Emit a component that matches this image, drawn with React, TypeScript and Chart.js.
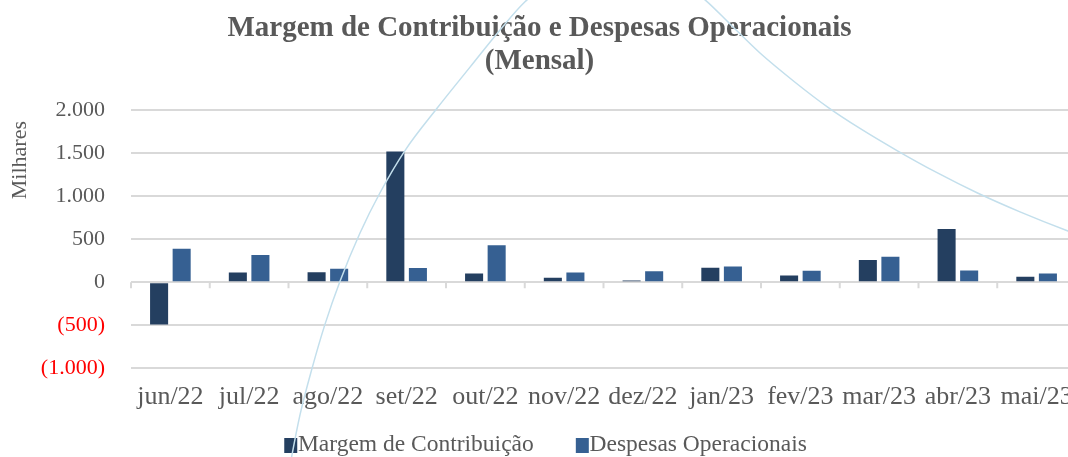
import React, { useEffect, useRef } from "react";
import { Chart, registerables } from "chart.js";

Chart.register(...registerables);

const categories = ["jun/22", "jul/22", "ago/22", "set/22", "out/22", "nov/22", "dez/22", "jan/23", "fev/23", "mar/23", "abr/23", "mai/23"];
const margemContribuicao = [-490, 113, 117, 1518, 102, 51, 20, 168, 78, 257, 619, 63];
const despesasOperacionais = [390, 315, 157, 164, 428, 113, 128, 183, 133, 297, 137, 102];
const yTickValues = [-1000, -500, 0, 500, 1000, 1500, 2000];
// decorative curve (x in category-index units, y in thousands)
const curveX = [1.506, 1.544, 1.646, 1.798, 1.963, 2.154, 2.408, 2.662, 2.979, 3.386, 3.805, 4.186, 4.503, 4.821, 5.202, 5.646, 6.09, 6.471, 6.789, 7.106, 7.487, 7.932, 8.351, 8.757, 9.227, 9.735, 10.243, 10.789, 11.398, 11.614];
const curveY = [-2206, -2008, -1541, -1004, -490, 12, 572, 1039, 1529, 2020, 2498, 2930, 3257, 3479, 3631, 3689, 3631, 3491, 3280, 3000, 2662, 2323, 2031, 1786, 1529, 1272, 1039, 817, 595, 525];

const FONT = "'Liberation Serif', 'Times New Roman', serif";
const GREY = "#595959";
const GRID = "#d9d9d9";
const COLORS = ["#243F60", "#366092"];

function fmt(v: number): string {
  const a = Math.abs(v);
  const s = a >= 1000 ? Math.floor(a / 1000) + "." + String(a % 1000).padStart(3, "0") : String(a);
  return v < 0 ? "(" + s + ")" : s;
}

function swatch(color: string): HTMLCanvasElement {
  const c = document.createElement("canvas");
  c.width = 42;
  c.height = 15;
  const g = c.getContext("2d")!;
  g.fillStyle = color;
  g.fillRect(19, 0, 13, 15);
  return c;
}

const legendShift = {
  id: "legendShift",
  afterLayout(chart: any) {
    const l = chart.legend;
    if (!l) return;
    l.top -= 23;
    l.bottom -= 23;
    l.left += 7;
    l.right += 7;
  },
};

// small tick marks hanging below the zero line at category boundaries
const zeroTicks = {
  id: "zeroTicks",
  beforeDatasetsDraw(chart: any) {
    const x = chart.scales.x;
    const y = chart.scales.y;
    const y0 = y.getPixelForValue(0);
    const ctx = chart.ctx;
    ctx.save();
    ctx.strokeStyle = GRID;
    ctx.lineWidth = 2;
    ctx.beginPath();
    for (let i = 0; i <= categories.length; i++) {
      const px = x.getPixelForValue(i - 0.5);
      ctx.moveTo(px, y0);
      ctx.lineTo(px, y0 + 6);
    }
    ctx.stroke();
    ctx.restore();
  },
};

export default function App() {
  const ref = useRef<HTMLCanvasElement | null>(null);
  useEffect(() => {
    if (!ref.current) return;
    const chart = new Chart(ref.current, {
      type: "bar",
      data: {
        labels: categories,
        datasets: [
          {
            label: "Margem de Contribuição",
            data: margemContribuicao,
            backgroundColor: COLORS[0],
            categoryPercentage: 0.573,
            barPercentage: 0.8,
            order: 1,
          } as any,
          {
            label: "Despesas Operacionais",
            data: despesasOperacionais,
            backgroundColor: COLORS[1],
            categoryPercentage: 0.573,
            barPercentage: 0.8,
            order: 1,
          } as any,
          {
            type: "line",
            label: "curve",
            parsing: false,
            data: curveX.map((x, i) => ({ x, y: curveY[i] })),
            borderColor: "#c3dfec",
            borderWidth: 1.5,
            pointRadius: 0,
            fill: false,
            cubicInterpolationMode: "monotone",
            clip: false,
            order: 0,
          } as any,
        ],
      },
      plugins: [legendShift, zeroTicks],
      options: {
        responsive: false,
        animation: false,
        layout: { padding: { left: 3, right: 4, top: 0, bottom: 0 } },
        plugins: {
          tooltip: { enabled: false },
          title: {
            display: true,
            text: ["Margem de Contribuição e Despesas Operacionais", "(Mensal)"],
            color: GREY,
            font: { family: FONT, size: 29, weight: "bold", lineHeight: 1.14 },
            padding: { top: 12, bottom: 31.9 },
          },
          legend: {
            display: true,
            position: "bottom",
            labels: {
              color: GREY,
              font: { family: FONT, size: 23.5 },
              usePointStyle: true,
              pointStyleWidth: 0.01,
              boxHeight: 15,
              padding: 44,
              generateLabels: (ch: any) => {
                const items = Chart.defaults.plugins.legend.labels.generateLabels(ch).filter((it: any) => it.text !== "curve");
                items.forEach((it: any, i: number) => {
                  it.pointStyle = swatch(COLORS[i]);
                });
                return items;
              },
            },
          },
        },
        scales: {
          x: {
            type: "category",
            position: "bottom",
            offset: true,
            grid: { display: false, drawTicks: true, tickLength: 13 },
            border: { display: false },
            ticks: { color: GREY, font: { family: FONT, size: 26 }, padding: 0, autoSkip: false, maxRotation: 0, minRotation: 0 },
          },
          y: {
            type: "linear",
            min: -1000,
            max: 2000,
            afterBuildTicks: (s: any) => { s.ticks = yTickValues.map((v) => ({ value: v })); },
            ticks: {
              padding: 26,
              font: { family: FONT, size: 22 },
              color: (c: any) => (c.tick && c.tick.value < 0 ? "#ff0000" : GREY),
              callback: (v: any) => fmt(Number(v)),
            },
            grid: { color: GRID, lineWidth: 2, drawTicks: false },
            border: { display: false },
            title: { display: true, text: "Milhares  ", align: "end", color: GREY, font: { family: FONT, size: 22 } },
            afterFit: (s: any) => { s.width = 128; },
          },
        },
      } as any,
    });
    return () => chart.destroy();
  }, []);
  return (
    <div style={{ position: "fixed", left: 0, top: 0, width: 1068, height: 457, overflow: "hidden", background: "#fff" }}>
      <canvas ref={ref} width={1080} height={490} style={{ display: "block", width: 1080, height: 490 }} />
    </div>
  );
}
